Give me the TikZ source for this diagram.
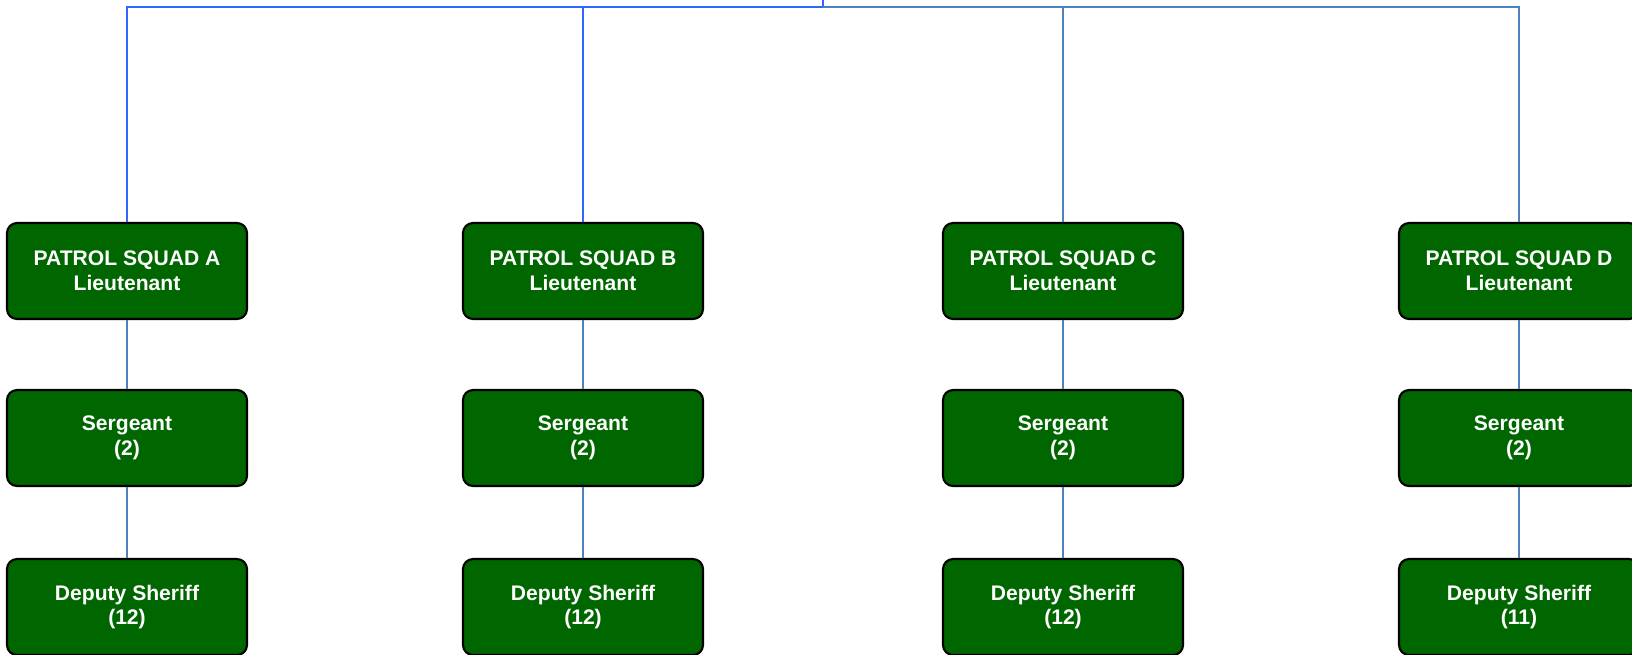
\documentclass[tikz,border=0pt]{standalone}
\usepackage{fontspec}
\setmainfont{Liberation Sans}
\usepackage{xcolor}
\usetikzlibrary{positioning, calc}

\definecolor{squadgreen}{RGB}{0,102,0}
\definecolor{linkbright}{RGB}{51,102,255}
\definecolor{linksteel}{RGB}{79,129,189}

\begin{document}
\begin{tikzpicture}[
    rank/.style={draw=black, line width=0.6pt, fill=squadgreen, text=white, rounded corners=0.1cm,
                 minimum width=2.4cm, minimum height=0.96cm, align=center, inner sep=0pt,
                 font=\bfseries\fontsize{6}{7.1}\selectfont},
    link/.style={draw=linksteel, line width=0.45pt},
    toplink/.style={draw=linkbright, line width=0.45pt}
]
    % Fix the page to the reference size
    \useasboundingbox (0,0) rectangle (16.32,-6.54);

    % Top bus coordinates
    \coordinate (top) at (8.23,0);
    \coordinate (bus) at (8.23,-0.07);

    % Squad A
    \node[rank] (LtA) at (1.27,-2.71) {PATROL SQUAD A\\Lieutenant};
    \node[rank] (SgtA) at (1.27,-4.38) {Sergeant\\(2)};
    \node[rank] (DepA) at (1.27,-6.07) {Deputy Sheriff\\(12)};

    % Squad B
    \node[rank] (LtB) at (5.83,-2.71) {PATROL SQUAD B\\Lieutenant};
    \node[rank] (SgtB) at (5.83,-4.38) {Sergeant\\(2)};
    \node[rank] (DepB) at (5.83,-6.07) {Deputy Sheriff\\(12)};

    % Squad C
    \node[rank] (LtC) at (10.63,-2.71) {PATROL SQUAD C\\Lieutenant};
    \node[rank] (SgtC) at (10.63,-4.38) {Sergeant\\(2)};
    \node[rank] (DepC) at (10.63,-6.07) {Deputy Sheriff\\(12)};

    % Squad D
    \node[rank] (LtD) at (15.19,-2.71) {PATROL SQUAD D\\Lieutenant};
    \node[rank] (SgtD) at (15.19,-4.38) {Sergeant\\(2)};
    \node[rank] (DepD) at (15.19,-6.07) {Deputy Sheriff\\(11)};

    % Bus from the top down to each squad
    \draw[toplink] (top) -- (bus);
    \draw[toplink] (bus) -- (bus -| LtA) -- (LtA.north);
    \draw[toplink] (bus) -- (bus -| LtB) -- (LtB.north);
    \draw[link] (bus) -- (bus -| LtC) -- (LtC.north);
    \draw[link] (bus) -- (bus -| LtD) -- (LtD.north);

    % Chains inside each squad
    \draw[link] (LtA) -- (SgtA);
    \draw[link] (SgtA) -- (DepA);
    \draw[link] (LtB) -- (SgtB);
    \draw[link] (SgtB) -- (DepB);
    \draw[link] (LtC) -- (SgtC);
    \draw[link] (SgtC) -- (DepC);
    \draw[link] (LtD) -- (SgtD);
    \draw[link] (SgtD) -- (DepD);
\end{tikzpicture}
\end{document}
